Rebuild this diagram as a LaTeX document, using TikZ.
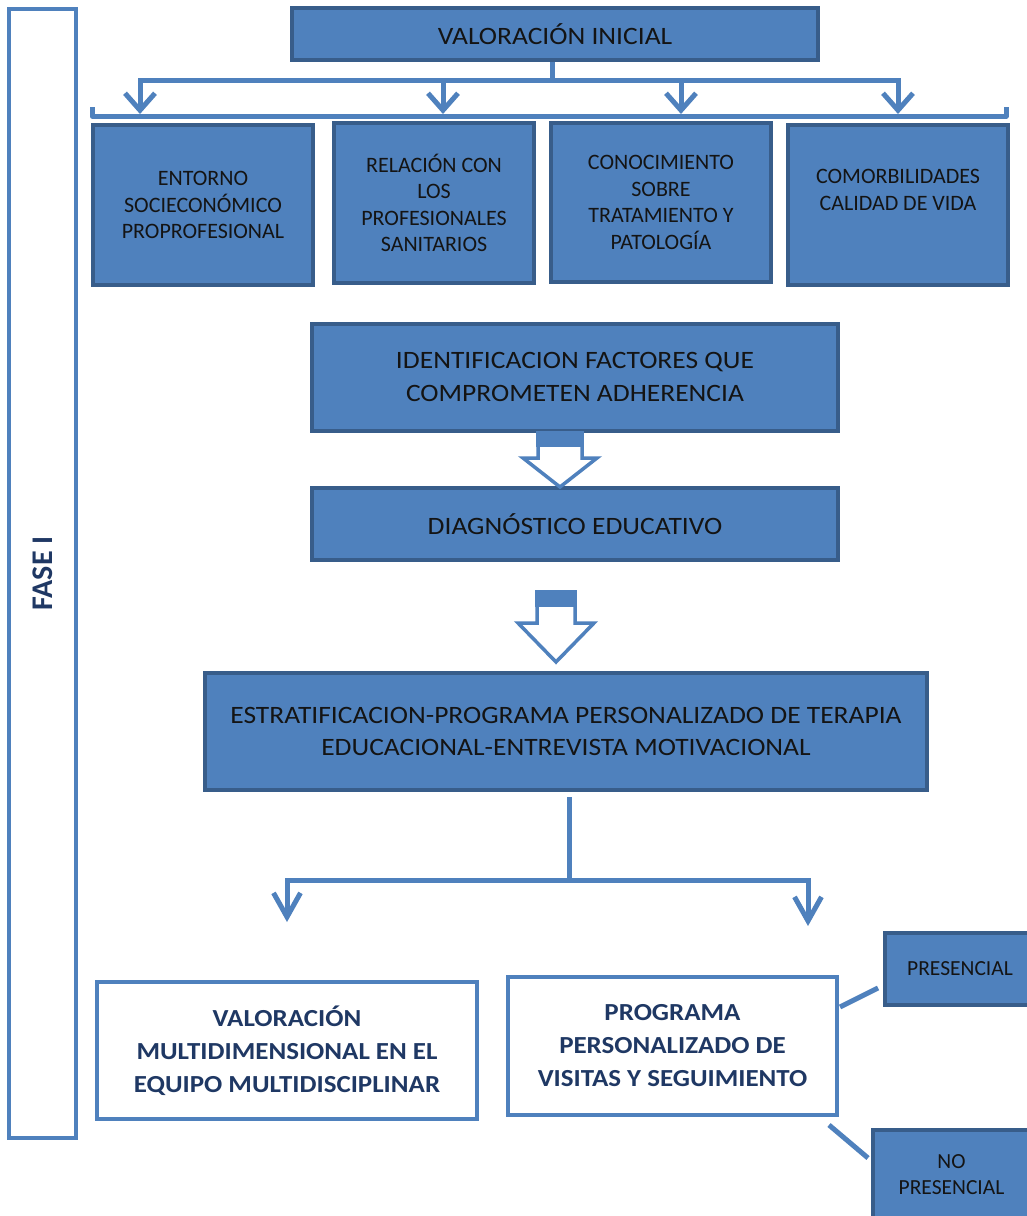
\documentclass[tikz,border=0pt]{standalone}
\usepackage{fontspec}
\newfontfamily\carl{Carlito}
\newfontfamily\carlw{Carlito}[FakeStretch=1.1]
\usetikzlibrary{arrows.meta,calc}
\definecolor{bfill}{HTML}{4F81BD}
\definecolor{bdark}{HTML}{385D8A}
\definecolor{navy}{HTML}{1F3864}
\definecolor{ink}{HTML}{141414}
\begin{document}
\begin{tikzpicture}[x=1pt,y=-1pt,
  bluebox/.style={draw=bdark,fill=bfill,line width=4pt,inner sep=0pt,align=center,text=ink},
  whitebox/.style={draw=bfill,fill=white,line width=4pt,inner sep=0pt,align=center,text=navy,font=\carlw\bfseries\fontsize{24.5}{33}\selectfont},
  conn/.style={draw=bfill,line width=5pt},
  toptip/.style={-{Straight Barb[length=17pt,width=30pt]}},
  bigtip/.style={-{Straight Barb[length=24pt,width=27pt]}},
  hollow/.style={draw=bfill,fill=white,line width=3.5pt,line join=miter},
  rowfont/.style={font=\carl\fontsize{22}{26.5}\selectfont},
  midfont/.style={font=\carlw\fontsize{25}{32.5}\selectfont},
  smallfont/.style={font=\carl\fontsize{21.5}{26}\selectfont},
]
\useasboundingbox (0,0) rectangle (1027,1216);
\fill[white] (0,0) rectangle (1027,1216);

% side band
\node[draw=bfill,line width=4pt,minimum width=1129pt,minimum height=67pt,rotate=90,inner sep=0pt,
      text=navy,font=\carl\bfseries\fontsize{30}{32}\selectfont] (fase) at (42.5,573.5) {FASE I};

% top
\node[bluebox,midfont,minimum width=526pt,minimum height=52pt] (vi) at (555,34) {VALORACIÓN INICIAL};

\node[bluebox,rowfont,minimum width=220pt,minimum height=160pt] (e1) at (203,205)
  {ENTORNO\\SOCIECONÓMICO\\PROPROFESIONAL};
\node[bluebox,rowfont,minimum width=200pt,minimum height=160pt] (e2) at (434,203)
  {RELACIÓN CON\\LOS\\PROFESIONALES\\SANITARIOS};
\node[bluebox,rowfont,minimum width=220pt,minimum height=159pt] (e3) at (661,202.5)
  {CONOCIMIENTO\\SOBRE\\TRATAMIENTO Y\\PATOLOGÍA};
\node[bluebox,rowfont,minimum width=220pt,minimum height=160pt] (e4) at (898,205)
  {COMORBILIDADES\\CALIDAD DE VIDA\\[4pt]};

% connectors from VALORACION INICIAL
\coordinate (hub) at (552,80);
\coordinate (t1) at (140,114);
\coordinate (t2) at (443,114);
\coordinate (t3) at (681,114);
\coordinate (t4) at (898,114);
\draw[conn] (vi.south -| hub) -- (hub);
\draw[conn,toptip] (hub) -| (t1);
\draw[conn,toptip] (hub) -| (t2);
\draw[conn,toptip] (hub) -| (t3);
\draw[conn,toptip] (hub) -| (t4);
\coordinate (bl) at (92,107);
\coordinate (br) at (1006,107);
\draw[conn,line join=round] (bl) -- ++(0,9) -| (br);

% middle
\node[bluebox,midfont,minimum width=526pt,minimum height=107pt] (ident) at (575,377)
  {IDENTIFICACION FACTORES QUE\\COMPROMETEN ADHERENCIA};
\node[bluebox,midfont,minimum width=526pt,minimum height=72pt] (diag) at (575,524)
  {DIAGNÓSTICO EDUCATIVO};
\node[bluebox,midfont,minimum width=722pt,minimum height=117pt] (estrat) at (566,731.5)
  {ESTRATIFICACION-PROGRAMA PERSONALIZADO DE TERAPIA\\EDUCACIONAL-ENTREVISTA MOTIVACIONAL};

% hollow block arrows
\begin{scope}[shift={(560,433)}]
  \draw[hollow] (-22,0) -- (22,0) -- (22,25) -- (37,25) -- (0,54) -- (-37,25) -- (-22,25) -- cycle;
  \fill[bfill] (-23.75,-1.75) rectangle (23.75,14);
\end{scope}
\begin{scope}[shift={(556,592)}]
  \draw[hollow] (-19,0) -- (19,0) -- (19,31) -- (38,31) -- (0,70) -- (-38,31) -- (-19,31) -- cycle;
  \fill[bfill] (-20.75,-1.75) rectangle (20.75,15);
\end{scope}

% split connector
\coordinate (hub2) at (569,880);
\coordinate (s1) at (287,922);
\coordinate (s2) at (808,926);
\draw[conn,shorten <=5pt] (estrat.south -| hub2) -- (hub2);
\draw[conn,bigtip] (hub2) -| (s1);
\draw[conn,bigtip] (hub2) -| (s2);

% bottom
\node[whitebox,minimum width=380pt,minimum height=137pt] (vm) at (287,1050.5)
  {VALORACIÓN\\MULTIDIMENSIONAL EN EL\\EQUIPO MULTIDISCIPLINAR};
\node[whitebox,minimum width=329pt,minimum height=138pt] (prog) at (672.5,1046)
  {PROGRAMA\\PERSONALIZADO DE\\VISITAS Y SEGUIMIENTO};
\node[bluebox,smallfont,minimum width=150pt,minimum height=72pt] (pres) at (960,969) {PRESENCIAL};
\node[bluebox,smallfont,minimum width=157pt,minimum height=90pt] (nopres) at (951.5,1175) {NO\\PRESENCIAL};

\draw[conn] ($(prog.north east)+(1,32)$) -- ($(pres.west)+(-5,19)$);
\draw[conn] ($(prog.south east)+(-10,8)$) -- ($(nopres.north west)+(-3,30)$);
\end{tikzpicture}
\end{document}
